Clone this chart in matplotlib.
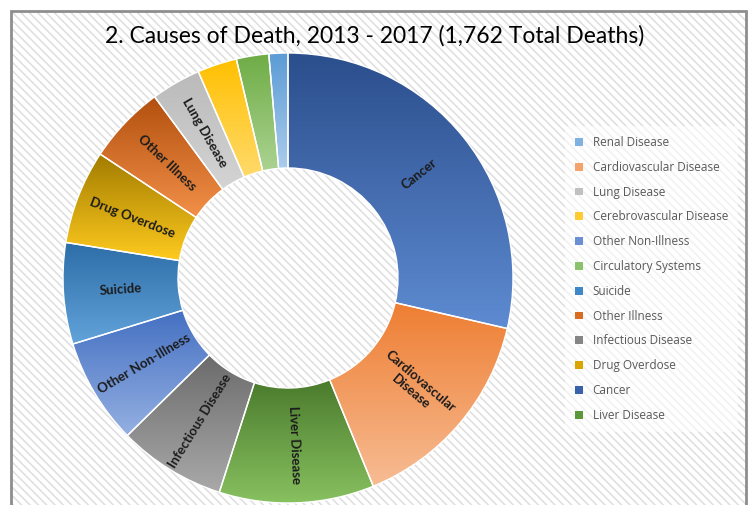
"""Donut chart: causes of death 2013 - 2017 (1,762 total deaths).

Excel-style look: per-slice vertical gradients, hatched chart area,
labels rotated along the ring, legend on the right.
"""

import matplotlib

matplotlib.use("Agg")
import matplotlib.pyplot as plt
import numpy as np
from matplotlib.colors import LinearSegmentedColormap
from matplotlib.patches import Patch, Rectangle


# ---------------------------------------------------------------------------
# Data (slices listed clockwise from 12 o'clock, as drawn)
# ---------------------------------------------------------------------------
TITLE = "2. Causes of Death, 2013 - 2017 (1,762 Total Deaths)"

CAUSES = [
    "Cancer", "Cardiovascular Disease", "Liver Disease", "Infectious Disease",
    "Other Non-Illness", "Suicide", "Drug Overdose", "Other Illness",
    "Lung Disease", "Cerebrovascular Disease", "Circulatory Systems",
    "Renal Disease",
]
DEATHS = [504, 268, 196, 136, 134, 128, 119, 99, 63, 50, 41, 24]

# text printed on each slice ("" = no label)
SLICE_LABELS = [
    "Cancer", "Cardiovascular\nDisease", "Liver Disease", "Infectious Disease",
    "Other Non-Illness", "Suicide", "Drug Overdose", "Other Illness",
    "Lung Disease", "", "", "",
]

LEGEND_ORDER = [
    "Renal Disease", "Cardiovascular Disease", "Lung Disease",
    "Cerebrovascular Disease", "Other Non-Illness", "Circulatory Systems",
    "Suicide", "Other Illness", "Infectious Disease", "Drug Overdose",
    "Cancer", "Liver Disease",
]

# (top, bottom) gradient colours per cause
GRADIENTS = {
    "Cancer": ("#2B4E8C", "#5E8BD2"),
    "Cardiovascular Disease": ("#EE7E32", "#F7BC94"),
    "Liver Disease": ("#4A7A2C", "#88C160"),
    "Infectious Disease": ("#6B6B6B", "#A9A9A9"),
    "Other Non-Illness": ("#4470C2", "#95B0E2"),
    "Suicide": ("#2D6DA8", "#62A3DA"),
    "Drug Overdose": ("#A27C00", "#FFCB1F"),
    "Other Illness": ("#B24F0E", "#F29049"),
    "Lung Disease": ("#BABABA", "#D4D4D4"),
    "Cerebrovascular Disease": ("#FFC000", "#FFDA6B"),
    "Circulatory Systems": ("#6EAC45", "#ABD391"),
    "Renal Disease": ("#5B9BD5", "#AACCEC"),
}

LEGEND_COLORS = {
    "Renal Disease": "#7FB2E3",
    "Cardiovascular Disease": "#F4A36B",
    "Lung Disease": "#C0C0C0",
    "Cerebrovascular Disease": "#FFCB33",
    "Other Non-Illness": "#6C8FD3",
    "Circulatory Systems": "#8CC26B",
    "Suicide": "#3F87C6",
    "Other Illness": "#DA6C22",
    "Infectious Disease": "#858585",
    "Drug Overdose": "#D9A600",
    "Cancer": "#3A62AA",
    "Liver Disease": "#5C983A",
}

# ---------------------------------------------------------------------------
# Layout (pixels, origin bottom-left)
# ---------------------------------------------------------------------------
W, H = 749, 505
CENTER = (288, 227)
RADIUS = 225
RING = 115

plt.rcParams["hatch.linewidth"] = 1.1


def main() -> None:
    fig = plt.figure(figsize=(W / 100, H / 100), dpi=100)
    ax = fig.add_axes([0, 0, 1, 1])

    # ---- chart area: hatched background + grey border ----
    ax.add_patch(Rectangle((10, -10), 736, 504, facecolor="white",
                           edgecolor="#DEDEDE", hatch="\\\\\\\\", lw=0, zorder=0))
    ax.add_patch(Rectangle((10.5, -10), 735.5, 504.5, facecolor="none",
                           edgecolor="#8E8E8E", lw=2, zorder=5))

    # ---- donut ----
    wedges, _ = ax.pie(
        DEATHS, startangle=90, counterclock=False, center=CENTER,
        radius=RADIUS,
        wedgeprops=dict(width=RING, edgecolor="white", linewidth=1),
    )

    for wedge, cause, label in zip(wedges, CAUSES, SLICE_LABELS):
        top, bottom = GRADIENTS[cause]
        cmap = LinearSegmentedColormap.from_list(cause, [bottom, top])
        ext = wedge.get_path().get_extents()
        grad = np.linspace(0, 1, 256).reshape(-1, 1)
        img = ax.imshow(grad, cmap=cmap, origin="lower", aspect="auto",
                        extent=[ext.x0, ext.x1, ext.y0, ext.y1], zorder=1)
        img.set_clip_path(wedge)
        wedge.set_facecolor("none")
        wedge.set_zorder(2)

        if not label:
            continue
        mid = np.deg2rad((wedge.theta1 + wedge.theta2) / 2)
        r_mid = RADIUS - RING / 2
        x = CENTER[0] + r_mid * np.cos(mid)
        y = CENTER[1] + r_mid * np.sin(mid)
        rot = np.rad2deg(mid)
        if np.cos(mid) < 0:
            rot += 180
        rot = (rot + 180) % 360 - 180
        ax.text(x, y, label, ha="center", va="center", rotation=rot,
                rotation_mode="anchor", multialignment="center",
                fontsize=9.5, fontweight="bold", family="Lato",
                color="#1C1C1C", zorder=3)

    ax.set_xlim(0, W)
    ax.set_ylim(0, H)
    ax.set_aspect("equal")
    ax.axis("off")

    # ---- title ----
    fig.text(375 / W, 1 - 36 / H, TITLE, ha="center", va="center",
             fontsize=16.5, family="Lato", color="black")

    # ---- legend ----
    handles = [Patch(facecolor=LEGEND_COLORS[name], edgecolor="none")
               for name in LEGEND_ORDER]
    leg = fig.legend(
        handles, LEGEND_ORDER, loc="upper left",
        bbox_to_anchor=(565 / W, 1 - 126 / H), bbox_transform=fig.transFigure,
        borderaxespad=0, frameon=True, fancybox=False,
        prop=dict(family="Open Sans", size=8.5), labelcolor="#595959",
        handlelength=0.65, handleheight=0.65, handletextpad=0.85,
        labelspacing=1.0, borderpad=0.85,
    )
    frame = leg.get_frame()
    frame.set_facecolor("white")
    frame.set_alpha(0.6)
    frame.set_edgecolor("none")

    fig.savefig("out.png", dpi=100)
    plt.close(fig)


if __name__ == "__main__":
    main()
